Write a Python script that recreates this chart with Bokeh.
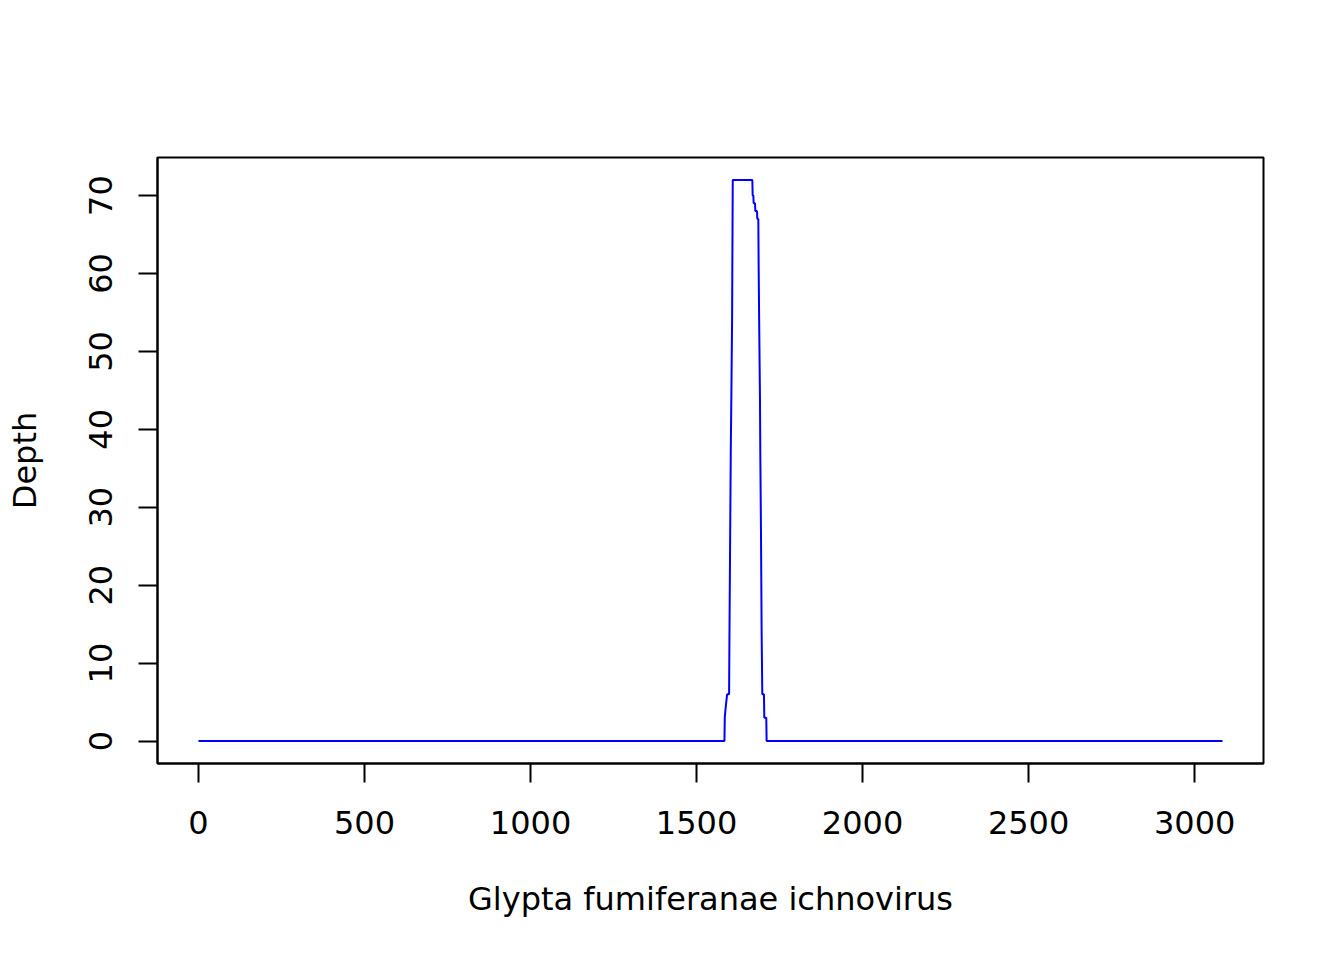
from bokeh.plotting import figure
from bokeh.models import Range1d, FixedTicker
from bokeh.embed import file_html
from bokeh.resources import INLINE

# depth profile vertices (position, depth)
positions = [0, 1584, 1585, 1587, 1592, 1598, 1599, 1603, 1605, 1607, 1609,
             1668, 1669, 1671, 1672, 1676, 1677, 1682, 1683, 1686, 1687, 1689,
             1691, 1692, 1694, 1696, 1698, 1703, 1704, 1710, 1711, 3084]
depths = [0, 0, 3, 4, 6, 6, 13, 37, 45, 54, 72,
          72, 70, 70, 69, 69, 68, 68, 67, 67, 61, 52,
          44, 37, 27, 14, 6, 6, 3, 3, 0, 0]

x_ticks = [0, 500, 1000, 1500, 2000, 2500, 3000]
y_ticks = [0, 10, 20, 30, 40, 50, 60, 70]
x_title = "Glypta fumiferanae ichnovirus"
y_title = "Depth"

FONT = "DejaVu Sans"

p = figure(width=1336, height=952, output_backend="svg", toolbar_location=None,
           x_range=Range1d(-123.4, 3207.4), y_range=Range1d(-2.88, 74.88),
           min_border_left=157, min_border_right=73, min_border_top=157,
           min_border_bottom=189)
p.frame_width = 1106
p.frame_height = 606

p.line(positions, depths, line_color="#0000ff", line_width=2)

p.grid.visible = False
p.outline_line_color = "black"
p.outline_line_width = 2
p.background_fill_color = "white"
p.border_fill_color = "white"

for ax, ticks in ((p.xaxis, x_ticks), (p.yaxis, y_ticks)):
    ax.ticker = FixedTicker(ticks=ticks)
    ax.minor_tick_line_color = None
    ax.major_tick_out = 19
    ax.major_tick_in = 0
    ax.major_tick_line_width = 2
    ax.major_tick_line_color = "black"
    ax.axis_line_width = 2
    ax.axis_line_color = "black"
    ax.major_label_text_font = FONT
    ax.major_label_text_font_size = "32px"
    ax.major_label_text_color = "black"
    ax.axis_label_text_font = FONT
    ax.axis_label_text_font_size = "32px"
    ax.axis_label_text_font_style = "normal"
    ax.axis_label_text_color = "black"

p.xaxis.major_label_standoff = 28
p.xaxis.axis_label_standoff = 43
p.yaxis.major_label_standoff = 26
p.yaxis.axis_label_standoff = 43
p.yaxis.major_label_orientation = "vertical"
p.xaxis.axis_label = x_title
p.yaxis.axis_label = y_title

open("out.html", "w").write(file_html(p, INLINE))
